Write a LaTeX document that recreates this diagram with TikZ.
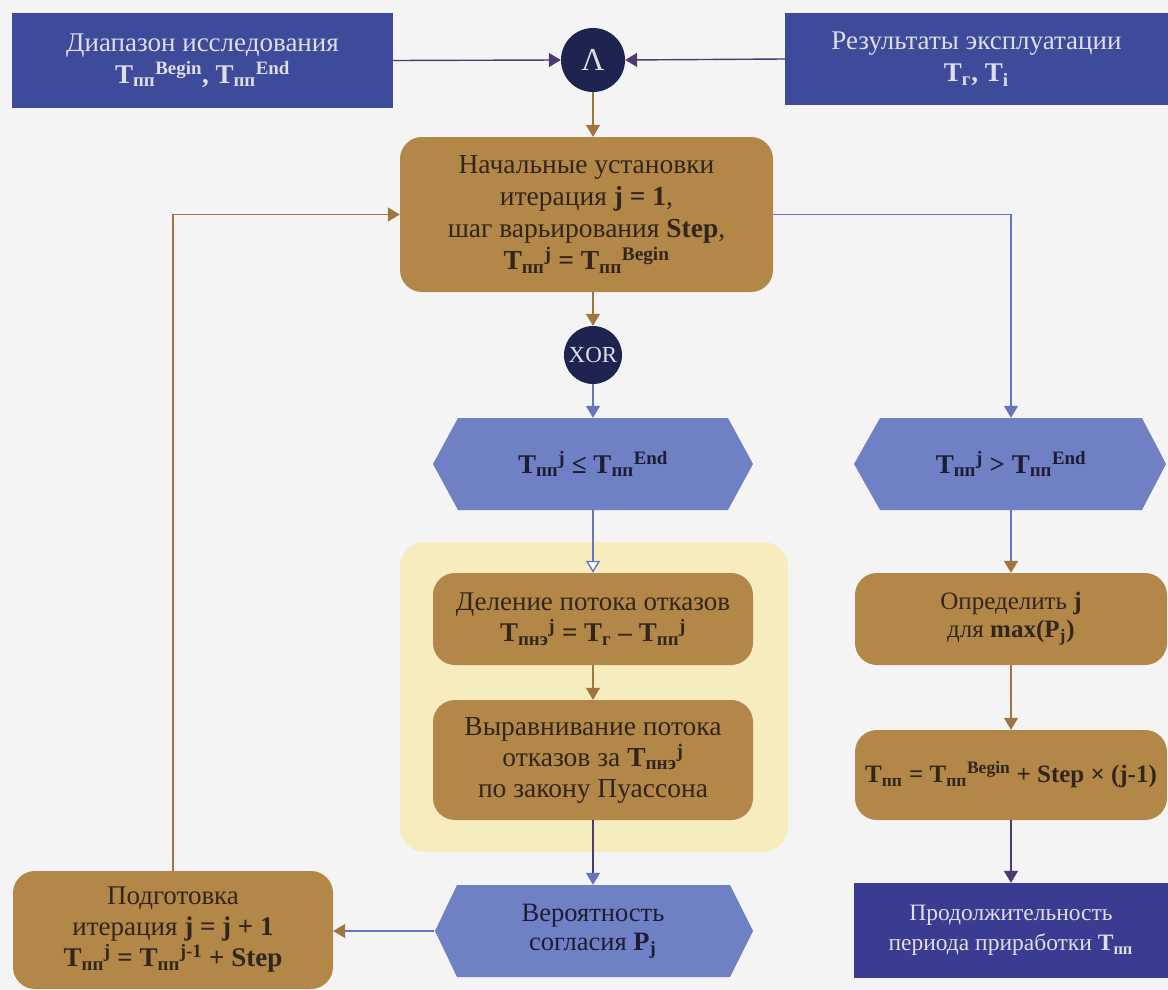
\documentclass[tikz,border=0pt]{standalone}
\usepackage{fontspec}
\usepackage{amsmath}
\setmainfont{Liberation Serif}
\usetikzlibrary{arrows.meta,calc}
\definecolor{bgc}{RGB}{244,244,244}
\definecolor{dblue}{RGB}{62,74,154}
\definecolor{dblue2}{RGB}{58,60,145}
\definecolor{navy}{RGB}{30,35,80}
\definecolor{brownbox}{RGB}{178,135,72}
\definecolor{hexc}{RGB}{112,128,196}
\definecolor{yell}{RGB}{247,236,190}
\definecolor{lighttxt}{RGB}{222,222,230}
\definecolor{browntxt}{RGB}{50,38,28}
\definecolor{hextxt}{RGB}{28,28,50}
\definecolor{purpl}{RGB}{78,58,112}
\definecolor{brownln}{RGB}{160,118,62}
\definecolor{blueln}{RGB}{100,116,192}
\newcommand{\Xv}[3]{\textbf{#1}$_{\text{\bfseries #2}}{}^{\text{\bfseries #3}}$}
\newcommand{\Tv}[2]{\Xv{T}{#1}{#2}}
\begin{document}
\begin{tikzpicture}[x=1pt,y=-1pt,
  box/.style={rectangle,inner sep=0pt,align=center},
  bluebox/.style={box,fill=dblue,text=lighttxt},
  brownbx/.style={box,fill=brownbox,text=browntxt,rounded corners=22pt},
  hexbx/.style={box,text=hextxt},
  gate/.style={circle,fill=navy,text=lighttxt,inner sep=0pt},
  arr/.style={line width=1.4pt,-{Triangle[length=12pt,width=14pt]}},
]
\useasboundingbox (0,0) rectangle (1168,990);
\fill[bgc] (0,0) rectangle (1168,990);

% yellow background
\fill[yell,rounded corners=25pt] (400,542) rectangle (788,852);

% hexagons
\fill[hexc] (433,464) -- (458,418) -- (728,418) -- (753,464) -- (728,510) -- (458,510) -- cycle;
\fill[hexc] (854,464) -- (880,418) -- (1142,418) -- (1166,464) -- (1142,510) -- (880,510) -- cycle;
\fill[hexc] (435,931) -- (457,885) -- (730,885) -- (753,931) -- (730,977) -- (457,977) -- cycle;

% top boxes
\node[bluebox,minimum width=381pt,minimum height=95pt,font=\fontsize{27}{32}\selectfont] (dia) at (202.5,60.5)
  {Диапазон исследования\\\Tv{пп}{Begin}\textbf{,} \Tv{пп}{End}};
\node[bluebox,minimum width=383pt,minimum height=92pt,font=\fontsize{27}{32}\selectfont] (res) at (976.5,59)
  {Результаты эксплуатации\\\Tv{г}{}\textbf{,} \Tv{i}{}};
\node[gate,minimum size=64pt,font=\fontsize{32}{32}\selectfont] (and) at (593,60) {Λ};

% init
\node[brownbx,minimum width=373pt,minimum height=155pt,font=\fontsize{27.5}{32}\selectfont] (init) at (586.5,214.5)
  {Начальные установки\\итерация \textbf{j = 1},\\шаг варьирования \textbf{Step},\\\Tv{пп}{j} \textbf{=} \Tv{пп}{Begin}};

\node[gate,minimum size=58pt,font=\fontsize{23}{23}\selectfont] (xor) at (593,355) {XOR};

\node[hexbx,minimum width=320pt,minimum height=92pt,font=\fontsize{27}{32}\selectfont] (h1) at (593,464)
  {\Tv{пп}{j} \textbf{≤} \Tv{пп}{End}};
\node[hexbx,minimum width=312pt,minimum height=92pt,font=\fontsize{27}{32}\selectfont] (h2) at (1011,464)
  {\Tv{пп}{j} \textbf{>} \Tv{пп}{End}};

\node[brownbx,minimum width=320pt,minimum height=92pt,font=\fontsize{27}{31}\selectfont] (del) at (593,619)
  {Деление потока отказов\\\Tv{пнэ}{j} \textbf{=} \Tv{г}{} \textbf{–} \Tv{пп}{j}};
\node[brownbx,minimum width=320pt,minimum height=120pt,font=\fontsize{27.5}{31}\selectfont] (vyr) at (593,760)
  {Выравнивание потока\\отказов за \Tv{пнэ}{j}\\по закону Пуассона};

\node[hexbx,minimum width=318pt,minimum height=92pt,font=\fontsize{26.5}{29}\selectfont] (ver) at (593,931)
  {Вероятность\\согласия \Xv{P}{j}{}};

\node[brownbx,minimum width=320pt,minimum height=118pt,font=\fontsize{27}{31}\selectfont] (pod) at (173,930)
  {Подготовка\\итерация \textbf{j = j + 1}\\\Tv{пп}{j} \textbf{=} \Tv{пп}{j-1} \textbf{+ Step}};

\node[brownbx,minimum width=312pt,minimum height=92pt,font=\fontsize{25}{28}\selectfont] (opr) at (1011,619)
  {Определить \textbf{j}\\для \textbf{max(}\Xv{P}{j}{}\textbf{)}};
\node[brownbx,minimum width=312pt,minimum height=90pt,font=\fontsize{25}{30}\selectfont] (tpp) at (1011,775)
  {\Tv{пп}{} \textbf{=} \Tv{пп}{Begin} \textbf{+ Step × (j-1)}};
\node[bluebox,fill=dblue2,minimum width=314pt,minimum height=95pt,font=\fontsize{23.5}{30}\selectfont] (prod) at (1011,930.5)
  {Продолжительность\\периода приработки \Tv{пп}{}};

% connectors
\draw[arr,purpl] (dia.east) -- (and.west);
\draw[arr,purpl] (res.west) -- (and.east);
\draw[arr,brownln] (and.south) -- (and.south |- init.north);
\draw[arr,brownln] (xor.north |- init.south) -- (xor.north);
\draw[arr,blueln] (xor.south) -- (h1.north);
\draw[arr,blueln] (init.east) -| (h2.north);
\draw[line width=1.4pt,blueln,-{Triangle[open,length=12pt,width=14pt,fill=white]}] (h1.south) -- (del.north);
\draw[arr,brownln] (del.south) -- (vyr.north);
\draw[line width=1.4pt,purpl,-{Triangle[length=12pt,width=14pt,color=blueln]}] (vyr.south) -- (ver.north);
\draw[line width=1.4pt,blueln,-{Triangle[length=12pt,width=14pt,color=brownln]}] (ver.west) -- (ver.west -| pod.east);
\draw[arr,brownln] (pod.north) |- (init.west);
\draw[line width=1.4pt,blueln,-{Triangle[length=12pt,width=14pt,color=brownln]}] (h2.south) -- (opr.north);
\draw[arr,brownln] (opr.south) -- (tpp.north);
\draw[arr,purpl] (tpp.south) -- (prod.north);
\end{tikzpicture}
\end{document}
